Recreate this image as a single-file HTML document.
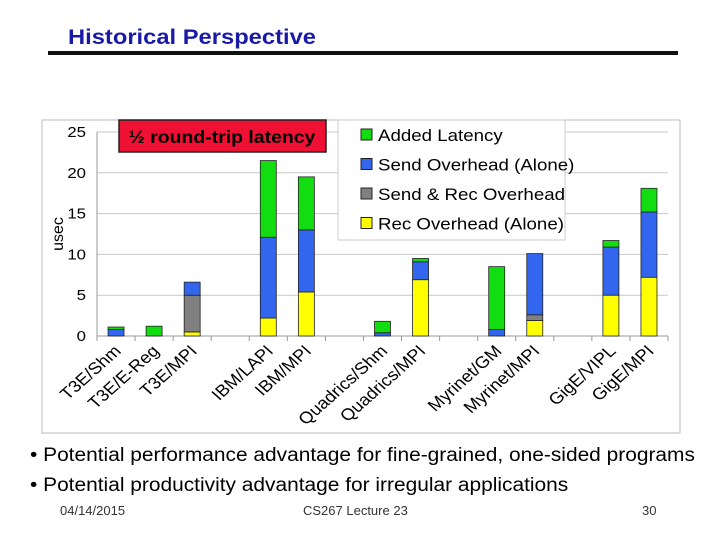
<!DOCTYPE html>
<html><head><meta charset="utf-8"><style>
body{margin:0;background:#fff;font-family:"Liberation Sans",sans-serif}
#page{position:relative;width:720px;height:540px;overflow:hidden;background:#fff}
.t{position:absolute;white-space:nowrap;transform-origin:0 0}
</style></head><body>
<div id="page">
<div class="t" style="left:68px;top:26px;font-size:21px;font-weight:bold;color:#1a1aa8;transform:scaleX(1.13)">Historical Perspective</div>
<div style="position:absolute;left:48px;top:51px;width:630px;height:4px;background:#111"></div>
<svg id="chart" width="720" height="540" style="position:absolute;left:0;top:0"></svg>
<div class="t" style="left:30px;top:445px;font-size:19px;color:#000;transform:scaleX(1.1)">• Potential performance advantage for fine-grained, one-sided programs</div>
<div class="t" style="left:30px;top:475px;font-size:19px;color:#000;transform:scaleX(1.1)">• Potential productivity advantage for irregular applications</div>
<div class="t" style="left:60px;top:503px;font-size:13px;color:#333">04/14/2015</div>
<div class="t" style="left:303px;top:503px;font-size:13px;color:#333">CS267 Lecture 23</div>
<div class="t" style="left:642px;top:503px;font-size:13px;color:#333">30</div>
</div>
<script>
const categories=["T3E/Shm","T3E/E-Reg","T3E/MPI","","IBM/LAPI","IBM/MPI","","Quadrics/Shm","Quadrics/MPI","","Myrinet/GM","Myrinet/MPI","","GigE/VIPL","GigE/MPI"];
const recOverhead=[0,0,0.5,0,2.2,5.4,0,0,6.9,0,0,1.9,0,5.0,7.2];
const sendRecOverhead=[0,0,4.5,0,0,0,0,0,0,0,0,0.7,0,0,0];
const sendOverhead=[0.8,0,1.6,0,9.9,7.6,0,0.4,2.2,0,0.8,7.5,0,5.9,8.0];
const addedLatency=[0.3,1.2,0,0,9.4,6.5,0,1.4,0.4,0,7.7,0,0,0.8,2.9];
const yTicks=[0,5,10,15,20,25];
const NS="http://www.w3.org/2000/svg";
const svg=document.getElementById('chart');
const X0=97,X1=668,Y0=336,Y1=132,YMAX=25,SX=1.12;
const slot=(X1-X0)/categories.length;
const y=v=>Y0-(v/YMAX)*(Y0-Y1);
const xc=i=>X0+slot*(i+0.5);
function mk(t,a,p){const e=document.createElementNS(NS,t);for(const k in a)e.setAttribute(k,a[k]);(p||svg).appendChild(e);return e;}
let e=mk('rect',{x:42,y:120,width:638,height:313,fill:'#fff',stroke:'#bbb'});


yTicks.forEach(t=>{
 let g=mk('line',{x1:X0,x2:X1,y1:y(t),y2:y(t),stroke:'#c8c8c8','stroke-width':1});
 
 
 let l=mk('text',{x:0,y:0,'text-anchor':'end','font-size':15,fill:'#000','font-family':'Liberation Sans',transform:`translate(${X0-11},${y(t)+5}) scale(${SX},1)`});
 l.textContent=t;
 
 
});
e=mk('line',{x1:X0,x2:X0,y1:Y1,y2:Y0,stroke:'#999'});


e=mk('line',{x1:X0,x2:X1,y1:Y0,y2:Y0,stroke:'#999'});


for(let i=0;i<=categories.length;i++){
 let tk=mk('line',{x1:X0+slot*i,x2:X0+slot*i,y1:Y0,y2:Y0+5,stroke:'#999'});
 
 
}
e=mk('text',{x:0,y:0,'text-anchor':'middle','font-size':16,transform:'translate(63,234) rotate(-90)','font-family':'Liberation Sans'});
e.textContent='usec';


const series=[[recOverhead,'#ffff00','rec-overhead'],[sendRecOverhead,'#808080','send-rec-overhead'],[sendOverhead,'#3366ee','send-overhead'],[addedLatency,'#11dd11','added-latency']];
const bw=16;
categories.forEach((c,i)=>{
 let acc=0;
 series.forEach(([arr,col,nm])=>{
  const v=arr[i]; if(v<=0)return;
  let r=mk('rect',{x:xc(i)-bw/2,y:y(acc+v),width:bw,height:y(acc)-y(acc+v),fill:col,stroke:'#222','stroke-width':0.8});
  
  
  acc+=v;
 });
 if(c){
  let tx=xc(i)+6,ty=Y0+16;
  let l=mk('text',{x:0,y:0,'text-anchor':'end','font-size':16.5,transform:`translate(${tx},${ty}) scale(${SX},1) rotate(-45)`,'font-family':'Liberation Sans'});
  l.textContent=c;
  
  
 }
});
e=mk('rect',{x:119,y:120,width:207,height:32,fill:'#ee1133',stroke:'#222','stroke-width':1.5});


e=mk('text',{x:0,y:0,'text-anchor':'middle','font-size':18,'font-weight':'bold','font-family':'Liberation Sans',transform:`translate(222,143) scale(1.08,1)`});
e.textContent='½ round-trip latency';


e=mk('rect',{x:338,y:120,width:227,height:120,fill:'#fff',stroke:'#ccc'});


const legendLabels=['Added Latency','Send Overhead (Alone)','Send & Rec Overhead','Rec Overhead (Alone)'];
const legendCols=['#11dd11','#3366ee','#808080','#ffff00'];
legendLabels.forEach((t,k)=>{
 const ly=135+k*29.5;
 let s=mk('rect',{x:361,y:ly-6,width:11,height:11,fill:legendCols[k],stroke:'#222'});
 
 
 let l=mk('text',{x:0,y:0,'font-size':17,'font-family':'Liberation Sans',transform:`translate(378,${ly+6}) scale(1.1,1)`});
 l.textContent=t;
 
 
});
</script>
</body></html>
